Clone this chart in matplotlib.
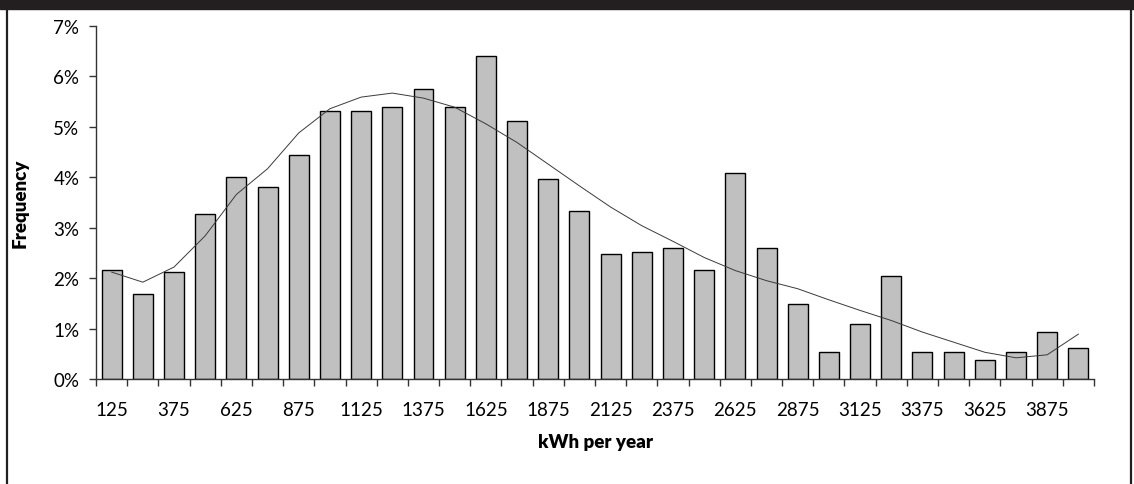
import matplotlib
matplotlib.use("Agg")
import matplotlib.pyplot as plt
from matplotlib.patches import Rectangle
from matplotlib.lines import Line2D
import numpy as np

plt.rcParams['font.family'] = ['Lato', 'DejaVu Sans']

# Data
bins = [125 * (i + 1) for i in range(32)]
freq = [2.16, 1.68, 2.12, 3.27, 4.01, 3.80, 4.45, 5.32, 5.32, 5.40,
        5.75, 5.39, 6.41, 5.11, 3.97, 3.34, 2.47, 2.51, 2.59, 2.16,
        4.09, 2.59, 1.49, 0.53, 1.09, 2.04, 0.53, 0.53, 0.38, 0.53,
        0.93, 0.61]
trend = [2.12, 1.92, 2.22, 2.84, 3.66, 4.17, 4.88, 5.36, 5.59, 5.67,
         5.57, 5.39, 5.06, 4.69, 4.26, 3.83, 3.41, 3.04, 2.73, 2.41,
         2.15, 1.95, 1.79, 1.57, 1.36, 1.16, 0.93, 0.73, 0.53, 0.42,
         0.48, 0.89]
ytick_vals = [0, 1, 2, 3, 4, 5, 6, 7]

fig = plt.figure(figsize=(11.34, 4.85), dpi=100)
ax = fig.add_axes([0.0847, 0.2165, 0.880, 0.7278])

x = np.arange(len(bins))
ax.bar(x, freq, width=0.64, color='#C0C0C0', edgecolor='black', linewidth=1.0, zorder=2)
ax.plot(x, trend, color='#3a3a3a', linewidth=0.7, zorder=3)

ax.set_xlim(-0.5, len(bins) - 0.5)
ax.set_ylim(0, 7)
ax.set_yticks(ytick_vals)
ax.set_yticklabels([f"{v}%" for v in ytick_vals], fontsize=13.5)

ax.set_xticks(np.arange(-0.5, len(bins), 1.0))
ax.set_xticklabels([])
ax.set_xticks(x[::2], minor=True)
ax.set_xticklabels([str(b) for b in bins[::2]], minor=True, fontsize=13.5)
ax.tick_params(axis='x', which='major', length=5, direction='out', color='#333333', width=1)
ax.tick_params(axis='x', which='minor', length=0, pad=16)
ax.tick_params(axis='y', length=5, direction='out', color='#333333', width=1, pad=7)

for s in ['top', 'right']:
    ax.spines[s].set_visible(False)
for s in ['left', 'bottom']:
    ax.spines[s].set_color('#333333')
    ax.spines[s].set_linewidth(1)

ax.set_xlabel('kWh per year', fontsize=13.5, fontweight='heavy', labelpad=11)
ax.set_ylabel('Frequency', fontsize=13.5, fontweight='heavy')
ax.yaxis.set_label_coords(-0.068, 0.5)

# Frame decorations
fig.patches.append(Rectangle((0, 1 - 10 / 485), 1, 10 / 485, transform=fig.transFigure,
                             color='#231F20', zorder=0))
fig.lines.append(Line2D([7 / 1134, 7 / 1134], [0, 1], transform=fig.transFigure,
                        color='#231F20', linewidth=1.6))
fig.lines.append(Line2D([1131 / 1134, 1131 / 1134], [0, 1], transform=fig.transFigure,
                        color='#231F20', linewidth=1.6))

fig.savefig('out.png', dpi=100)
